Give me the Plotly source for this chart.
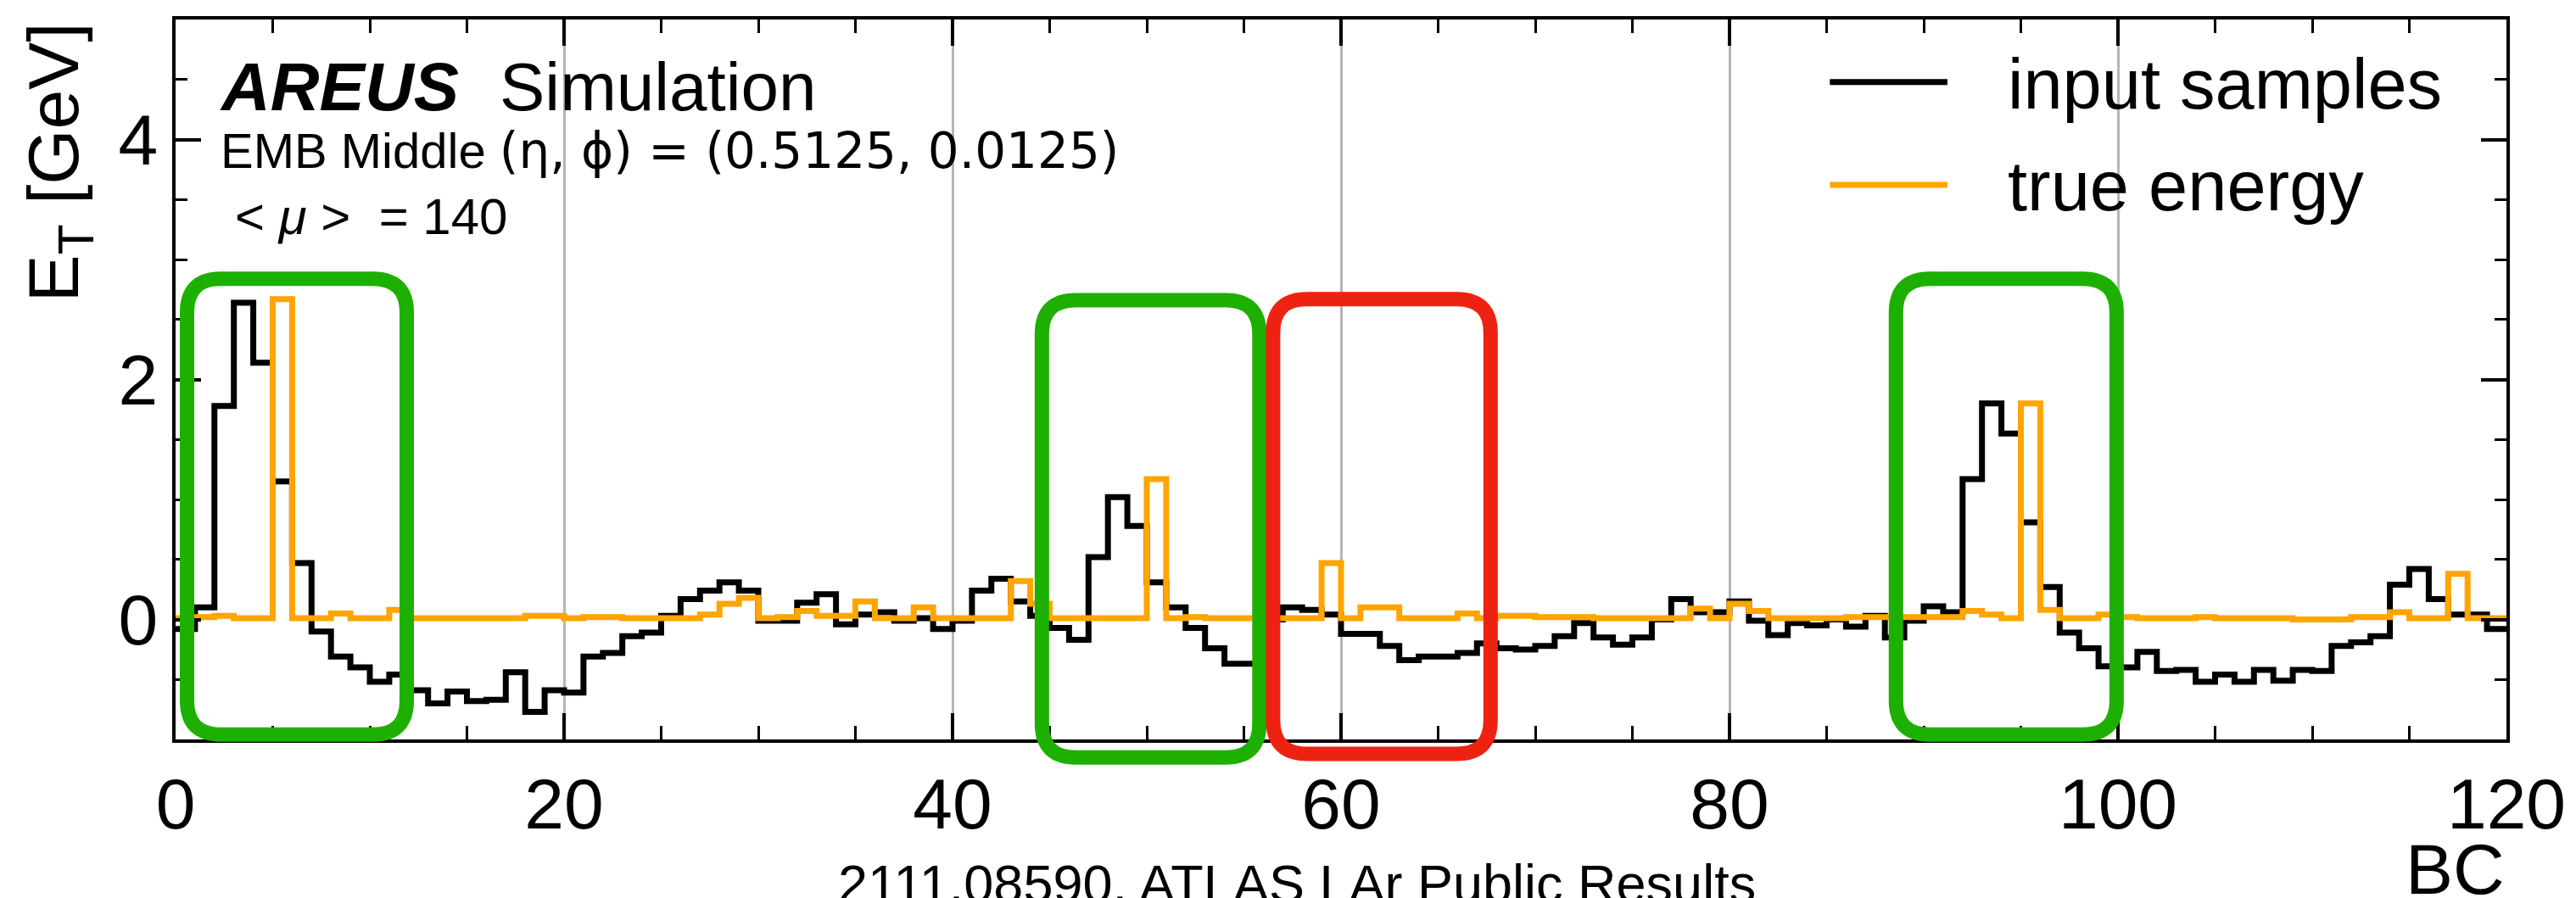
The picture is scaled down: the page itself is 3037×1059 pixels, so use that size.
import plotly.graph_objects as go

# ---------------- data ----------------
bc_edges = list(range(0, 121))

input_samples = [
    -0.08, 0.10, 1.78, 2.64, 2.14, 1.15, 0.47, -0.10, -0.31, -0.40,
    -0.52, -0.46, -0.59, -0.70, -0.60, -0.68, -0.67, -0.44, -0.77, -0.59,
    -0.61, -0.31, -0.28, -0.14, -0.11, 0.03, 0.17, 0.24, 0.31, 0.24,
    -0.01, -0.01, 0.14, 0.21, -0.04, 0.04, 0.06, -0.01, 0.01, -0.08,
    -0.01, 0.24, 0.34, 0.15, 0.03, -0.07, -0.17, 0.52, 1.02, 0.78,
    0.31, 0.10, -0.07, -0.24, -0.37, -0.37, 0.00, 0.10, 0.08, 0.04,
    -0.12, -0.12, -0.22, -0.34, -0.31, -0.31, -0.28, -0.20, -0.24, -0.25,
    -0.22, -0.14, -0.03, -0.15, -0.21, -0.15, 0.00, 0.17, 0.06, 0.06,
    0.15, -0.01, -0.13, -0.03, -0.05, 0.00, -0.06, 0.03, -0.15, -0.01,
    0.11, 0.06, 1.17, 1.80, 1.55, 0.81, 0.27, -0.11, -0.24, -0.39,
    -0.40, -0.27, -0.43, -0.42, -0.52, -0.46, -0.52, -0.42, -0.51, -0.42,
    -0.43, -0.22, -0.19, -0.14, 0.29, 0.42, 0.17, 0.04, 0.04, -0.08,
]

true_energy = [
    0.01, 0.02, 0.03, 0.01, 0.01, 2.67, 0.01, 0.01, 0.05, 0.01,
    0.01, 0.08, 0.01, 0.01, 0.01, 0.01, 0.01, 0.01, 0.03, 0.03,
    0.01, 0.02, 0.02, 0.01, 0.01, 0.01, 0.01, 0.04, 0.13, 0.18,
    0.01, 0.02, 0.07, 0.03, 0.03, 0.15, 0.01, 0.01, 0.10, 0.01,
    0.01, 0.01, 0.01, 0.32, 0.13, 0.01, 0.01, 0.01, 0.01, 0.01,
    1.17, 0.01, 0.02, 0.01, 0.01, 0.01, 0.01, 0.01, 0.01, 0.47,
    0.01, 0.10, 0.10, 0.01, 0.01, 0.01, 0.05, 0.01, 0.03, 0.03,
    0.02, 0.02, 0.02, 0.01, 0.01, 0.01, 0.01, 0.01, 0.09, 0.01,
    0.13, 0.07, 0.01, 0.01, 0.01, 0.01, 0.02, 0.02, 0.02, 0.02,
    0.02, 0.02, 0.07, 0.04, 0.01, 1.80, 0.08, 0.01, 0.01, 0.04,
    0.02, 0.01, 0.01, 0.01, 0.02, 0.01, 0.01, 0.01, 0.01, 0.00,
    0.00, 0.00, 0.02, 0.02, 0.06, 0.01, 0.01, 0.38, 0.01, 0.01,
]

x_ticks = [0, 20, 40, 60, 80, 100, 120]
y_ticks = [0, 2, 4]

# highlighted bunch-crossing windows: (x0, x1, y0, y1)
green_windows = [(0.59, 11.9, -0.96, 2.84), (44.6, 55.8, -1.15, 2.66), (88.57, 99.93, -0.96, 2.84)]
red_windows = [(56.5, 67.7, -1.12, 2.67)]

# ---------------- geometry ----------------
W, H = 3037, 1059
ML, MR, MT, MB = 207, 74, 23, 187
PW, PH = W - ML - MR, H - MT - MB
X_RANGE = (0, 120)
Y_RANGE = (-1, 5)

FONT = "Liberation Sans, Arial, Helvetica, sans-serif"


def px_x(p):
    return (p - ML) / PW


def px_y(p):
    return (H - MB - p) / PH


def dx(x):
    return (x - X_RANGE[0]) / (X_RANGE[1] - X_RANGE[0])


def dy(y):
    return (y - Y_RANGE[0]) / (Y_RANGE[1] - Y_RANGE[0])


def rounded_box(x0, x1, y0, y1, r=40):
    a, b = dx(x0), dx(x1)
    c, d = dy(y0), dy(y1)
    rx, ry = r / PW, r / PH
    return (f"M {a+rx},{c} L {b-rx},{c} Q {b},{c} {b},{c+ry} "
            f"L {b},{d-ry} Q {b},{d} {b-rx},{d} L {a+rx},{d} "
            f"Q {a},{d} {a},{d-ry} L {a},{c+ry} Q {a},{c} {a+rx},{c} Z")


fig = go.Figure()

fig.add_trace(go.Scatter(
    x=bc_edges, y=input_samples + [input_samples[-1]],
    mode="lines", line=dict(shape="hv", color="black", width=7),
    name="input samples", showlegend=False, hoverinfo="skip"))

fig.add_trace(go.Scatter(
    x=bc_edges, y=true_energy + [true_energy[-1]],
    mode="lines", line=dict(shape="hv", color="#FFA500", width=7),
    name="true energy", showlegend=False, hoverinfo="skip"))

shapes = []
for (x0, x1, y0, y1) in green_windows:
    shapes.append(dict(type="path", xref="paper", yref="paper", layer="above",
                       path=rounded_box(x0, x1, y0, y1),
                       line=dict(color="#1DB000", width=17)))
for (x0, x1, y0, y1) in red_windows:
    shapes.append(dict(type="path", xref="paper", yref="paper", layer="above",
                       path=rounded_box(x0, x1, y0, y1),
                       line=dict(color="#EE2211", width=17)))

# legend samples
for yy, col in [(96.7, "black"), (218, "#FFA500")]:
    shapes.append(dict(type="line", xref="paper", yref="paper",
                       x0=px_x(2163), x1=px_x(2302), y0=px_y(yy), y1=px_y(yy),
                       line=dict(color=col, width=7)))

annotations = []


def text(s, x, y_top, size, family=FONT, xanchor="left", angle=0, yanchor="top"):
    annotations.append(dict(text=s, xref="paper", yref="paper", x=px_x(x), y=px_y(y_top),
                            xanchor=xanchor, yanchor=yanchor, showarrow=False,
                            textangle=angle, font=dict(family=family, size=size, color="black")))


text("<b><i>AREUS</i></b>", 257, 56, 80)
text("Simulation", 588, 56, 80)
text("EMB Middle <span style='font-family:DejaVu Sans'>(η, ϕ) = (0.5125, 0.0125)</span>",
     258, 142, 58)
text("< <i>μ</i> >\u00a0\u00a0= 140", 275, 220, 60)

text("input samples", 2371, 51, 83)
text("true energy", 2371, 171, 83)

text("BC", 2963, 976, 84, xanchor="right")
text("2111.08590, ATLAS LAr Public Results", 988, 1005, 63)
text("E<sub>T</sub> [GeV]", 69, 24, 84, xanchor="center", angle=-90)

axis_common = dict(
    showline=True, linecolor="black", linewidth=4, mirror="allticks",
    ticks="inside", tickcolor="black", tickwidth=3.5,
    tickfont=dict(family=FONT, size=84, color="black"),
    zeroline=False,
)

fig.update_layout(
    width=W, height=H,
    margin=dict(l=ML, r=MR, t=MT, b=MB),
    paper_bgcolor="white", plot_bgcolor="white",
    shapes=shapes, annotations=annotations,
    showlegend=False,
    xaxis=dict(range=list(X_RANGE), tickvals=x_ticks, ticktext=[str(v) for v in x_ticks],
               ticklen=31, showgrid=True, gridcolor="#b5b5b5", gridwidth=3,
               minor=dict(dtick=5, tick0=0, ticks="inside", ticklen=16, tickwidth=3,
                          tickcolor="black", showgrid=False),
               **axis_common),
    yaxis=dict(range=list(Y_RANGE), tickvals=y_ticks, ticktext=[str(v) for v in y_ticks],
               ticklen=30, showgrid=False,
               minor=dict(dtick=0.5, tick0=0, ticks="inside", ticklen=14, tickwidth=3,
                          tickcolor="black", showgrid=False),
               **axis_common),
)

fig.write_html("out.html")
